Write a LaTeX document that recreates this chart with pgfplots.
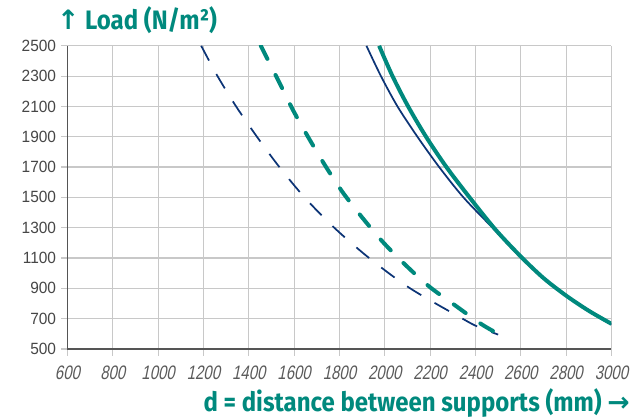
\documentclass[border=0pt]{standalone}
\usepackage{fontspec}
\usepackage{pgfplots}
\pgfplotsset{compat=1.18}
\setmainfont{Liberation Sans}
\newfontfamily\ytickfont[FakeStretch=0.95]{Liberation Sans}
\newfontfamily\xtickfont[FakeStretch=0.77, FakeSlant=0.2]{Liberation Sans}
\newfontfamily\titlefont[FakeStretch=0.9]{Fira Sans}
\newfontfamily\arrowfont{DejaVu Sans}
\definecolor{tealc}{RGB}{0,137,125}
\definecolor{navyc}{RGB}{12,52,118}
\definecolor{gridc}{RGB}{200,200,200}
\definecolor{axc}{RGB}{85,85,85}
\definecolor{ytc}{RGB}{70,70,70}
\definecolor{xtc}{RGB}{90,90,90}
\begin{document}
\begin{tikzpicture}
\useasboundingbox (-50.6pt,-51.75pt) rectangle (432.4pt,261.75pt);
\begin{axis}[
  scale only axis,
  width=408pt, height=227.4pt,
  xmin=600, xmax=3000, ymin=500, ymax=2500,
  xtick={600,800,...,3000},
  ytick={500,700,...,2500},
  axis lines=left,
  axis line style={-, axc, line width=1.1pt},
  grid=major,
  grid style={gridc, line width=0.9pt},
  tick align=outside,
  major tick length=5pt,
  tick style={gridc, line width=0.9pt},
  /pgf/number format/1000 sep={},
  /pgf/number format/assume math mode=true,
  yticklabel style={font=\ytickfont\fontsize{12.2}{14}\selectfont, text=ytc},
  xticklabel style={font=\xtickfont\fontsize{14.6}{16}\selectfont, text=xtc, yshift=-4.5pt},
  clip=true,
]
% navy dashed
\addplot[navyc, line width=1.3pt, dash pattern=on 12.5pt off 11.5pt, smooth] coordinates {
(1190,2500) (1262,2300) (1344,2100) (1436,1900) (1535,1700) (1646,1500)
(1777,1300) (1931,1100) (2112,900) (2343,700) (2409,648) (2500,595)};
% teal dashed
\addplot[tealc, line width=3pt, line cap=round, dash pattern=on 11pt off 13.5pt, smooth] coordinates {
(1453,2500) (1533,2263) (1595,2076) (1663,1895) (1736,1712) (1815,1532)
(1901,1366) (1992,1205) (2090,1056) (2196,912) (2310,788) (2424,666) (2500,600)};
% navy solid
\addplot[navyc, line width=1.3pt, smooth] coordinates {
(1919,2500) (1983,2300) (2056,2100) (2144,1900) (2240,1700) (2347,1500)
(2475,1300) (2596,1110) (2700,965) (2800,850) (2900,752) (3000,662)};
% teal solid
\addplot[tealc, line width=3pt, smooth] coordinates {
(1975,2500) (2034,2300) (2103,2100) (2182,1900) (2272,1700) (2374,1500)
(2487,1290) (2600,1110) (2700,968) (2800,852) (2900,752) (3000,666)};
\end{axis}
\node[anchor=base west, inner sep=0pt, text=tealc] at (-7.9pt,239.6pt)
  {\titlefont\bfseries\fontsize{20}{24}\selectfont{\arrowfont\bfseries ↑} Load (N/m²)};
\node[anchor=base east, inner sep=0pt, text=tealc] at (421.9pt,-46.8pt)
  {\titlefont\bfseries\fontsize{20}{24}\selectfont d = distance between supports (mm) {\arrowfont\bfseries →}};
\end{tikzpicture}
\end{document}
